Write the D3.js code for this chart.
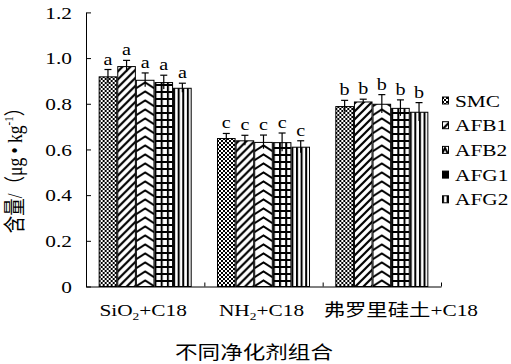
<!DOCTYPE html>
<html><head><meta charset="utf-8">
<script src="https://cdn.jsdelivr.net/npm/d3@7"></script>
<style>body{margin:0;background:#fff}svg{display:block}</style>
</head><body><svg id="c" width="511" height="364"></svg>
<script>
// ---- data ----
const groups = ["SiO_2+C18", "NH_2+C18", "弗罗里硅土+C18"];
const series = ["SMC", "AFB1", "AFB2", "AFG1", "AFG2"];
const smc  = [0.92, 0.65, 0.79];
const afb1 = [0.965, 0.64, 0.81];
const afb2 = [0.905, 0.633, 0.80];
const afg1 = [0.895, 0.632, 0.782];
const afg2 = [0.87, 0.612, 0.765];
const smcErr  = [0.03, 0.02, 0.025];
const afb1Err = [0.025, 0.022, 0.01];
const afb2Err = [0.03, 0.03, 0.04];
const afg1Err = [0.03, 0.04, 0.035];
const afg2Err = [0.02, 0.026, 0.04];
const letters = ["a", "c", "b"];
const yTicks = [0, 0.2, 0.4, 0.6, 0.8, 1.0, 1.2];
const xTitle = "不同净化剂组合";
const yTitleMain = "含量/（μg • kg";
const yTitleSup = "-1";
const yTitleEnd = "）";

const values = [smc, afb1, afb2, afg1, afg2];
const errs = [smcErr, afb1Err, afb2Err, afg1Err, afg2Err];
const patternTypes = ["checker", "diag", "chevron", "grid", "vstripe"];

// ---- layout ----
const L = 86, R = 441, T = 12.4, B = 286.5;
const SX = 1.22, FS = 17.5;
const FONT = "'Liberation Serif','Times New Roman','Noto Sans CJK SC',serif";

const svg = d3.select("#c");
svg.append("rect").attr("width", 511).attr("height", 364).attr("fill", "#fff");
const defs = svg.append("defs");

const y = d3.scaleLinear().domain([0, 1.2]).range([B, T]);
const x0 = d3.scaleBand().domain(groups).range([L, R]).paddingInner(0.214).paddingOuter(0.107);
const x1 = d3.scaleBand().domain(series).range([0, x0.bandwidth()]);
const bw = x1.bandwidth();

function makePattern(id, type, px, py, w) {
  let pw, ph;
  if (type === "checker") { pw = 4; ph = 4; }
  else if (type === "diag") { pw = 8; ph = 8; }
  else if (type === "chevron") { pw = w; ph = 9; }
  else if (type === "grid") { pw = w / 3; ph = 7; }
  else { pw = 4.6; ph = 10; }
  const p = defs.append("pattern").attr("id", id).attr("patternUnits", "userSpaceOnUse")
    .attr("x", px).attr("y", py).attr("width", pw).attr("height", ph);
  p.append("rect").attr("width", pw).attr("height", ph).attr("fill", "#fff");
  if (type === "checker") {
    p.append("rect").attr("x", 0).attr("y", 0).attr("width", 2).attr("height", 2).attr("fill", "#000");
    p.append("rect").attr("x", 2).attr("y", 2).attr("width", 2).attr("height", 2).attr("fill", "#000");
  } else if (type === "diag") {
    p.append("path").attr("d", "M0,8 L8,0 M-2,2 L2,-2 M6,10 L10,6")
      .attr("stroke", "#000").attr("stroke-width", 2.2);
  } else if (type === "chevron") {
    p.append("path").attr("d", `M0,7.5 L${pw / 2},1.5 L${pw},7.5`)
      .attr("stroke", "#000").attr("stroke-width", 2).attr("fill", "none");
  } else if (type === "grid") {
    p.append("rect").attr("x", 0).attr("y", 0).attr("width", 2).attr("height", ph).attr("fill", "#000");
    p.append("rect").attr("x", 0).attr("y", 0).attr("width", pw).attr("height", 2).attr("fill", "#000");
  } else {
    p.append("rect").attr("x", 0).attr("y", 0).attr("width", 2).attr("height", ph).attr("fill", "#000");
  }
}

// ---- bars ----
const plot = svg.append("g");
groups.forEach((g, gi) => {
  series.forEach((s, si) => {
    const v = values[si][gi], e = errs[si][gi];
    const bx = x0(g) + x1(s);
    const id = `p${gi}_${si}`;
    makePattern(id, patternTypes[si], bx, 0, bw);
    plot.append("rect").attr("x", bx + 0.5).attr("y", y(v) + 0.5)
      .attr("width", bw - 1).attr("height", y(0) - y(v) - 0.5)
      .attr("fill", `url(#${id})`).attr("stroke", "#000").attr("stroke-width", 1);
    const cx = bx + bw / 2;
    plot.append("line").attr("x1", cx).attr("x2", cx).attr("y1", y(v - e)).attr("y2", y(v + e))
      .attr("stroke", "#000").attr("stroke-width", 1.2);
    plot.append("line").attr("x1", cx - 3.5).attr("x2", cx + 3.5).attr("y1", y(v + e)).attr("y2", y(v + e))
      .attr("stroke", "#000").attr("stroke-width", 1.2);
    plot.append("text").attr("transform", `translate(${cx},${y(v + e) - 5}) scale(${SX},1)`)
      .attr("text-anchor", "middle").attr("font-family", FONT).attr("font-size", 16.5)
      .text(letters[gi]);
  });
});

// ---- axes ----
const fmt = d => d === 0 ? "0" : d3.format(".1f")(d);
const ya = svg.append("g").attr("transform", `translate(${L},0)`)
  .call(d3.axisLeft(y).tickValues(yTicks).tickSize(-5).tickSizeOuter(0).tickFormat(fmt));
ya.selectAll("text").attr("x", 0).attr("transform", `translate(-14,0) scale(${SX},1)`)
  .attr("font-family", FONT).attr("font-size", FS).attr("fill", "#000");
ya.selectAll("line,path").attr("stroke", "#000");

const xb = d3.scaleLinear().domain([0, 3]).range([L, R]);
const xa = svg.append("g").attr("transform", `translate(0,${B})`)
  .call(d3.axisBottom(xb).tickValues([1, 2, 3]).tickSize(-4).tickSizeOuter(0).tickFormat(""));
xa.selectAll("line,path").attr("stroke", "#000");

// group labels (the last, longer label sits to the right, as in the original)
groups.forEach((g, gi) => {
  const shift = gi === groups.length - 1 ? 19 : -2;
  const cx = x0(g) + x0.bandwidth() / 2 + shift;
  const t = svg.append("text").attr("transform", `translate(${cx},315.5) scale(${SX},1)`)
    .attr("text-anchor", "middle").attr("font-family", FONT).attr("font-size", FS);
  const parts = g.split("_");
  t.append("tspan").text(parts[0]);
  if (parts.length > 1) {
    t.append("tspan").attr("font-size", 11).attr("dy", 4).text(parts[1].charAt(0));
    t.append("tspan").attr("dy", -4).text(parts[1].slice(1));
  }
});

// x title
svg.append("text").attr("transform", `translate(254,359) scale(${SX},1)`)
  .attr("text-anchor", "middle").attr("font-family", FONT).attr("font-size", 18.5).text(xTitle);

// y title
const yt = svg.append("text").attr("transform", `translate(22,166) scale(${SX},1) rotate(-90)`)
  .attr("text-anchor", "middle").attr("font-family", FONT).attr("font-size", FS);
yt.append("tspan").text(yTitleMain);
yt.append("tspan").attr("font-size", 11).attr("dy", -7).text(yTitleSup);
yt.append("tspan").attr("dy", 7).text(yTitleEnd);

// legend
series.forEach((s, si) => {
  const cy = 100.5 + si * 24.7;
  const id = `lg${si}`;
  makePattern(id, patternTypes[si], 442, cy - 3.5, 6);
  svg.append("rect").attr("x", 442.5).attr("y", cy - 3.5).attr("width", 6).attr("height", 7)
    .attr("fill", `url(#${id})`).attr("stroke", "#000").attr("stroke-width", 1);
  svg.append("text").attr("transform", `translate(455,${cy + 6}) scale(${SX},1)`)
    .attr("font-family", FONT).attr("font-size", FS).text(s);
});
</script></body></html>
